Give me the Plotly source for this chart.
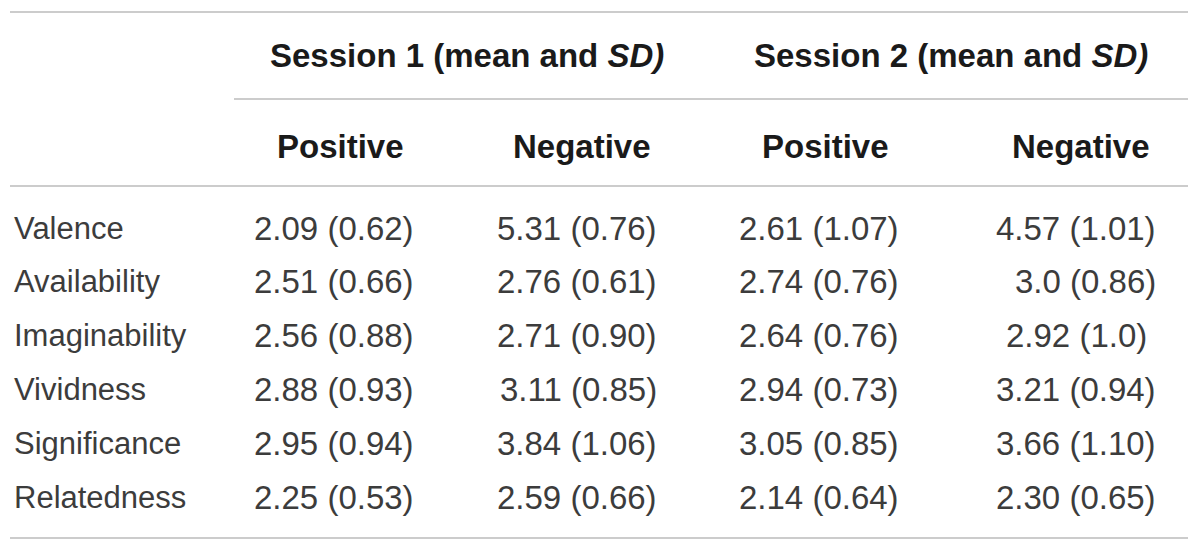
import plotly.graph_objects as go

# table content
sessions = ["Session 1 (mean and <i>SD)</i>", "Session 2 (mean and <i>SD)</i>"]
conditions = ["Positive", "Negative", "Positive", "Negative"]
measures = ["Valence", "Availability", "Imaginability", "Vividness", "Significance", "Relatedness"]

s1_positive = ["2.09 (0.62)", "2.51 (0.66)", "2.56 (0.88)", "2.88 (0.93)", "2.95 (0.94)", "2.25 (0.53)"]
s1_negative = ["5.31 (0.76)", "2.76 (0.61)", "2.71 (0.90)", "3.11 (0.85)", "3.84 (1.06)", "2.59 (0.66)"]
s2_positive = ["2.61 (1.07)", "2.74 (0.76)", "2.64 (0.76)", "2.94 (0.73)", "3.05 (0.85)", "2.14 (0.64)"]
s2_negative = ["4.57 (1.01)", "3.0 (0.86)", "2.92 (1.0)", "3.21 (0.94)", "3.66 (1.10)", "2.30 (0.65)"]

columns = [s1_positive, s1_negative, s2_positive, s2_negative]

W, H = 1200, 551
family = "Liberation Sans, Arial, sans-serif"
label_font = dict(family=family, size=31, color="#3c3c3c")
value_font = dict(family=family, size=33, color="#3c3c3c")
head_font = dict(family=family, size=33, color="#1a1a1a")
rule = dict(color="#cccccc", width=2)

col_right = [416, 659, 901, 1158]
col_left = [257, 502, 747, 1004]
cond_center = [340, 582, 825, 1081]
session_center = [467, 951]
row_y0, row_step = 228, 53.8

fig = go.Figure()
ann = []

for i, s in enumerate(sessions):
    ann.append(dict(x=session_center[i], y=55, text="<b>" + s + "</b>", xanchor="center",
                    yanchor="middle", font=head_font, showarrow=False))
for i, c in enumerate(conditions):
    ann.append(dict(x=cond_center[i], y=146, text="<b>" + c + "</b>", xanchor="center",
                    yanchor="middle", font=head_font, showarrow=False))

for r, m in enumerate(measures):
    y = row_y0 + r * row_step
    ann.append(dict(x=12, y=y, text=m, xanchor="left", yanchor="middle",
                    font=label_font, showarrow=False))
    for c, col in enumerate(columns):
        # one cell in the source sits flush left instead of right
        if c == 3 and r == 2:
            ann.append(dict(x=col_left[c], y=y, text=col[r], xanchor="left", yanchor="middle",
                            font=value_font, showarrow=False))
        else:
            ann.append(dict(x=col_right[c], y=y, text=col[r], xanchor="right", yanchor="middle",
                            font=value_font, showarrow=False))

shapes = [
    dict(type="line", x0=10, x1=1188, y0=12, y1=12, line=rule),
    dict(type="line", x0=234, x1=1188, y0=99, y1=99, line=rule),
    dict(type="line", x0=10, x1=1188, y0=186, y1=186, line=rule),
    dict(type="line", x0=10, x1=1188, y0=538, y1=538, line=rule),
]

fig.update_layout(
    width=W, height=H,
    margin=dict(l=0, r=0, t=0, b=0),
    paper_bgcolor="white", plot_bgcolor="white",
    xaxis=dict(range=[0, W], visible=False, fixedrange=True),
    yaxis=dict(range=[H, 0], visible=False, fixedrange=True),
    annotations=ann, shapes=shapes, showlegend=False,
)

fig.write_html("out.html", config={"displayModeBar": False},
               post_script="document.body.style.margin='0px';")
